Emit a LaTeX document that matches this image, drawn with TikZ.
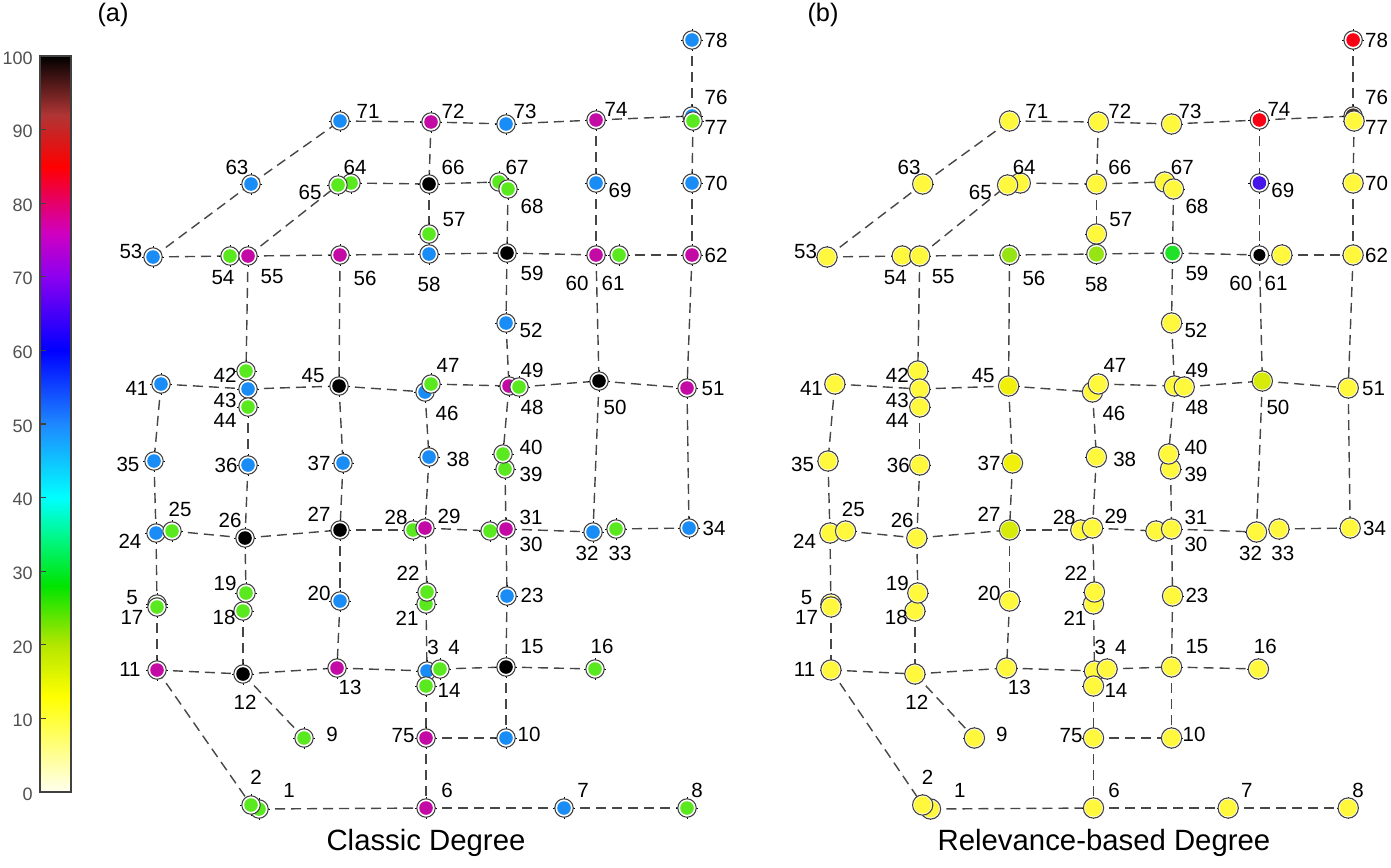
\documentclass[tikz,border=0pt]{standalone}
\usepackage{fontspec}
\setmainfont{Liberation Sans}
\pgfdeclarelayer{bg}
\pgfsetlayers{bg,main}
\definecolor{cB}{RGB}{25,140,245}
\definecolor{cG}{RGB}{90,232,30}
\definecolor{cM}{RGB}{195,10,165}
\definecolor{cK}{RGB}{0,0,0}
\definecolor{cY}{RGB}{255,248,60}
\definecolor{cY2}{RGB}{215,235,10}
\definecolor{cY3}{RGB}{240,240,10}
\definecolor{cL}{RGB}{150,228,20}
\definecolor{cGG}{RGB}{30,225,40}
\definecolor{cV}{RGB}{70,20,230}
\definecolor{cR}{RGB}{250,0,20}
\definecolor{cD}{RGB}{70,50,40}
\definecolor{ringc}{RGB}{65,65,65}
\definecolor{edgec}{RGB}{70,70,70}
\definecolor{cbtext}{RGB}{80,80,80}
\definecolor{s0}{HTML}{FFFFF0}
\definecolor{s13}{HTML}{FFFF00}
\definecolor{s20}{HTML}{B4E600}
\definecolor{s28}{HTML}{00E400}
\definecolor{s35}{HTML}{00F890}
\definecolor{s40}{HTML}{00FFFF}
\definecolor{s50}{HTML}{1E88FF}
\definecolor{s60}{HTML}{0000FF}
\definecolor{s70}{HTML}{8C00F0}
\definecolor{s76}{HTML}{D000C0}
\definecolor{s85}{HTML}{FF0000}
\definecolor{s92}{HTML}{B03535}
\definecolor{s100}{HTML}{000000}
\tikzset{
  netnode/.style 2 args={circle, draw=ringc, line width=0.8pt, fill=white,
    minimum size=13.8pt, inner sep=0pt,
    path picture={\fill[#1] (path picture bounding box.center) circle (#2);}},
  nB/.style={netnode={cB}{5.1pt}},
  nG/.style={netnode={cG}{5.1pt}},
  nM/.style={netnode={cM}{5.1pt}},
  nK/.style={netnode={cK}{5.1pt}},
  yY/.style={netnode={cY}{6.5pt}, minimum size=15.2pt},
  yY2/.style={netnode={cY2}{6.5pt}, minimum size=15.2pt},
  yY3/.style={netnode={cY3}{6.5pt}, minimum size=15.2pt},
  yL/.style={netnode={cL}{5.7pt}, minimum size=14.6pt},
  yG/.style={netnode={cGG}{5.5pt}, minimum size=14.6pt},
  yK/.style={netnode={cK}{4.5pt}},
  yV/.style={netnode={cV}{5.1pt}},
  yR/.style={netnode={cR}{5.1pt}},
  yD/.style={netnode={cD}{5.7pt}},
  netedge/.style={draw=edgec, line width=1.05pt, dash pattern=on 7.5pt off 4.5pt},
  crossm/.style={draw=black, line width=0.5pt},
  nlabel/.style={font=\fontsize{15.4}{16}\selectfont, inner sep=0pt},
  cblabel/.style={font=\fontsize{13.5}{14}\selectfont, text=cbtext, inner sep=0pt, anchor=east},
  ttl/.style={font=\fontsize{22}{24}\selectfont, inner sep=0pt},
  plabel/.style={font=\fontsize{19}{20}\selectfont, inner sep=0pt}
}
\def\nodelist{%
1/259/809/289/790/nG/yY, 2/251/805/256/777/nG/yY, 3/427/671/433/647/nB/yY,
4/440/669/454/647/nG/yY, 5/157/604/132/598/nG/yY, 6/426/808/447/790/nM/yY,
7/564/808/583/790/nB/yY, 8/687/808/697/790/nG/yY, 9/304/738/332/734/nG/yY,
10/506/738/529/734/nB/yY, 11/157/670/130/669/nM/yY, 12/243/674/245/702/nK/yY,
13/337/668/350/687/nM/yY, 14/426/686/449/690/nG/yY, 15/506/667/532/647/nK/yY,
16/595/669/602/646/nG/yY, 17/157/607/132/617/nG/yY, 18/243/611/224/617/nG/yY,
19/246/593/225/583/nG/yY, 20/340/601/319/593/nB/yY, 21/426/604/407/618/nG/yY,
22/427/592/408/573/nG/yY, 23/507/596/532/595/nB/yY, 24/156/533/130/541/nB/yY,
25/172/531/180/509/nG/yY, 26/245/538/230/520/nK/yY, 27/340/530/319/514/nK/yY2,
28/413/530/396/517/nG/yY, 29/425/528/449/516/nM/yY, 30/490/531/531/544/nG/yY,
31/506/529/531/517/nM/yY, 32/593/532/587/553/nB/yY, 33/616/529/620/553/nG/yY,
34/689/528/714/528/nB/yY, 35/154/461/128/464/nB/yY, 36/248/465/226/465/nB/yY,
37/343/463/319/463/nB/yY3, 38/429/457/458/459/nB/yY, 39/505/469/531/474/nG/yY,
40/503/454/531/447/nG/yY, 41/161/384/137/388/nB/yY, 42/246/371/225/375/nG/yY,
43/248/389/225/400/nB/yY, 44/248/407/225/420/nG/yY, 45/339/386/313/376/nK/yY3,
46/425/392/447/413/nB/yY, 47/431/384/448/365/nG/yY, 49/509/386/532/370/nM/yY,
48/519/387/532/407/nG/yY, 50/599/381/615/407/nK/yY2, 51/687/388/713/389/nM/yY,
52/506/323/531/330/nB/yY, 53/153/257/131/251/nB/yY, 54/230/256/223/278/nG/yY,
55/248/256/272/277/nM/yY, 56/340/255/365/278/nM/yL, 57/429/234/454/220/nG/yY,
58/429/254/429/284/nB/yL, 59/507/253/532/273/nK/yG, 60/596/255/577/283/nM/yK,
61/619/255/613/283/nG/yY, 62/692/255/716/255/nM/yY, 63/251/184/237/167/nB/yY,
64/351/183/355/167/nG/yY, 65/338/185/310/192/nG/yY, 66/429/184/453/167/nK/yY,
67/499/182/517/167/nG/yY, 68/508/189/532/206/nG/yY, 69/596/183/620/190/nB/yV,
70/692/183/716/183/nB/yY, 71/340/121/368/111/nB/yY, 72/431/122/453/111/nM/yY,
73/506/124/525/111/nB/yY, 74/596/120/616/109/nM/yR, 75/426/738/403/736/nM/yY,
76/692/116/716/97/nB/yD, 77/693/121/716/127/nG/yY, 78/692/40/716/40/nB/yR}
\def\edgelist{%
53/54, 54/55, 55/56, 56/58, 58/59, 59/60, 60/61, 61/62,
53/63, 63/71, 71/72, 72/73, 73/74, 74/76,
55/65, 65/64, 64/66, 66/67, 67/68,
72/66, 66/57, 57/58, 68/59, 74/69, 69/60, 78/76, 77/70, 70/62,
55/42, 56/45, 59/52, 52/49, 60/50, 62/51,
41/43, 43/45, 45/46, 47/49, 48/50, 50/51,
41/35, 35/24, 44/36, 36/26, 45/37, 37/27, 46/38, 38/29, 49/40, 39/31, 50/32, 51/34,
24/25, 25/26, 26/27, 27/28, 29/30, 31/32, 33/34,
24/5, 17/11, 26/19, 18/12, 27/20, 20/13, 29/22, 21/3, 31/23, 23/15,
11/12, 12/13, 13/3, 4/15, 15/16, 11/2, 12/9, 14/75, 75/10, 15/10, 75/6, 1/6, 6/7, 7/8}
\begin{document}
\begin{tikzpicture}[x=0.75pt,y=-0.75pt]
\begin{pgfonlayer}{bg}
\fill[white] (0,0) rectangle (1391,867);
\end{pgfonlayer}
\useasboundingbox (0,0) rectangle (1391,867);
% colour bar
\shade[bottom color=s0, top color=s13] (40,792) rectangle (71,696.3);
\shade[bottom color=s13, top color=s20] (40,696.4) rectangle (71,644.8);
\shade[bottom color=s20, top color=s28] (40,644.9) rectangle (71,585.9);
\shade[bottom color=s28, top color=s35] (40,586) rectangle (71,534.4);
\shade[bottom color=s35, top color=s40] (40,534.5) rectangle (71,497.6);
\shade[bottom color=s40, top color=s50] (40,497.7) rectangle (71,424);
\shade[bottom color=s50, top color=s60] (40,424.1) rectangle (71,350.4);
\shade[bottom color=s60, top color=s70] (40,350.5) rectangle (71,276.8);
\shade[bottom color=s70, top color=s76] (40,276.9) rectangle (71,232.6);
\shade[bottom color=s76, top color=s85] (40,232.7) rectangle (71,166.4);
\shade[bottom color=s85, top color=s92] (40,166.5) rectangle (71,114.9);
\shade[bottom color=s92, top color=s100] (40,115) rectangle (71,56);
\draw[ringc, line width=0.9pt] (40,56) rectangle (71,792);
\foreach \v in {10,20,...,90} \draw[ringc, line width=0.9pt] (40,792-7.36*\v) -- (46,792-7.36*\v);
\foreach \v in {0,10,...,100} \node[cblabel] (cb\v) at (33,794-7.36*\v) {\v};
% panel labels and titles
\node[plabel] (pa) at (113,15) {(a)};
\node[plabel] (pb) at (823,15) {(b)};
\node[ttl] (ta) at (426,843) {Classic Degree};
\node[ttl] (tb) at (1104,843) {Relevance-based Degree};
% panel (a)
\foreach \i/\x/\y/\lx/\ly/\ca/\cb in \nodelist {
  \node[\ca] (a\i) at (\x,\y) {};
  \node[nlabel] (la\i) at (\lx,\ly) {\i};
}
% panel (b)
\begin{scope}[shift={(677.7,0)}, xscale=0.976]
\foreach \i/\x/\y/\lx/\ly/\ca/\cb in \nodelist {
  \node[\cb] (b\i) at (\x,\y) {};
  \node[nlabel] (lb\i) at (\lx,\ly) {\i};
}
\end{scope}
\begin{pgfonlayer}{bg}
\foreach \p/\q in \edgelist {
  \draw[netedge] (a\p.center) -- (a\q.center);
  \draw[netedge] (b\p.center) -- (b\q.center);
}
\foreach \i/\x/\y/\lx/\ly/\ca/\cb in \nodelist {
  \draw[crossm] (a\i.center) ++(-11,0) -- ++(22,0);
  \draw[crossm] (a\i.center) ++(0,-11) -- ++(0,22);
  \draw[crossm] (b\i.center) ++(-11,0) -- ++(22,0);
  \draw[crossm] (b\i.center) ++(0,-11) -- ++(0,22);
}
\end{pgfonlayer}
\end{tikzpicture}
\end{document}
